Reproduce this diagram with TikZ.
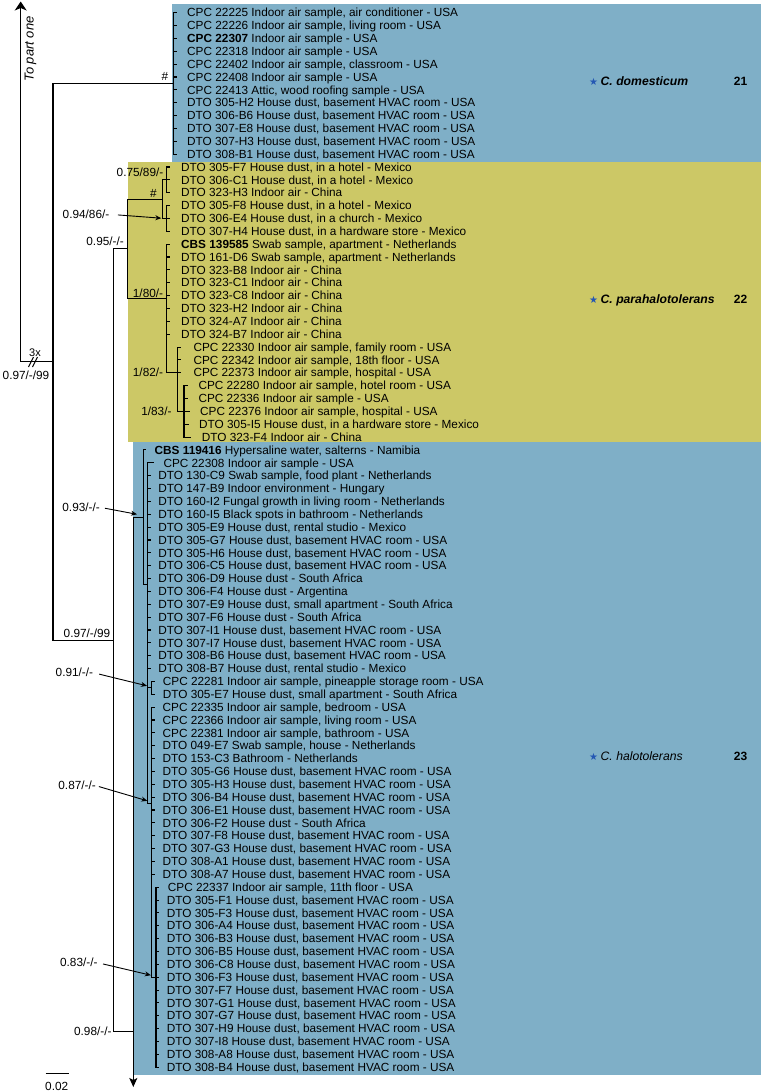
\documentclass[tikz,border=0pt]{standalone}
\usepackage{fontspec}
\setmainfont{Liberation Sans}
\newfontfamily\starfont{DejaVu Sans}
\usetikzlibrary{arrows.meta}
\definecolor{cladeblue}{RGB}{127,175,199}
\definecolor{cladeyellow}{RGB}{204,200,102}
\definecolor{starblue}{RGB}{36,87,179}

\begin{document}
\begin{tikzpicture}[x=1pt, y=-1pt,
    every node/.style={font=\fontsize{11.8}{13}\selectfont, inner sep=0pt, text height=8.4pt, text depth=0pt},
    branch/.style={line width=1.1pt, line cap=rect},
    leaf/.style={anchor=west, inner xsep=#1}, leaf/.default=10pt,
    support/.style={anchor=east},
    pointer/.style={line width=0.9pt, -{Stealth[length=6pt, width=5pt]}},
    species/.style={anchor=west, font=\fontsize{12.2}{13}\selectfont},
    cladenum/.style={font=\fontsize{12}{13}\selectfont\bfseries}]
    \useasboundingbox (0,0) rectangle (761,1091);

    % Clade boxes
    \fill[cladeblue] (172.3,4.3) rectangle (761,161.7);
    \fill[cladeyellow] (128.3,161.7) rectangle (761,441.7);
    \fill[cladeblue] (133.3,441.7) rectangle (761,1075);

    % Internal nodes
    \coordinate (root) at (53,361.85);
    \coordinate (dom) at (173.3,83.43);
    \coordinate (big) at (113.3,640.27);
    \coordinate (para) at (127.7,248.83);
    \coordinate (hashp) at (162.3,199.17);
    \coordinate (c75) at (166.7,179.88);
    \coordinate (c94) at (166.7,218.46);
    \coordinate (c180) at (166.7,298.48);
    \coordinate (c182) at (177.3,372.78);
    \coordinate (c183) at (184,411.36);
    \coordinate (halo) at (133.3,1031.7);
    \coordinate (c93) at (143.3,517.28);
    \coordinate (csub) at (147.7,584.61);
    \coordinate (c91) at (151.7,687.85);
    \coordinate (c87) at (151.3,803.16);
    \coordinate (c83) at (156,977.2);
    \coordinate (partone) at (20.7,1.5);
    \coordinate (partnext) at (133.3,1087);

    % C. domesticum
    \foreach \r/\lab in {1/{CPC 22225 Indoor air sample, air conditioner - USA}, 2/{CPC 22226 Indoor air sample, living room - USA}, 3/{\textbf{CPC 22307} Indoor air sample - USA}, 4/{CPC 22318 Indoor air sample - USA}, 5/{CPC 22402 Indoor air sample, classroom - USA}, 6/{CPC 22408 Indoor air sample - USA}, 7/{CPC 22413 Attic, wood roofing sample - USA}, 8/{DTO 305-H2 House dust, basement HVAC room - USA}, 9/{DTO 306-B6 House dust, basement HVAC room - USA}, 10/{DTO 307-E8 House dust, basement HVAC room - USA}, 11/{DTO 307-H3 House dust, basement HVAC room - USA}, 12/{DTO 308-B1 House dust, basement HVAC room - USA}}{
        \node[leaf=11pt] (L\r) at (176,{12.7+(\r-1)*12.86}) {\lab};
        \draw[branch] (dom |- L\r.west) -- (L\r.west);
    }

    % C. parahalotolerans
    \foreach \r/\up/\lab in {13/c75/{DTO 305-F7 House dust, in a hotel - Mexico}, 14/c75/{DTO 306-C1 House dust, in a hotel - Mexico}, 15/c75/{DTO 323-H3 Indoor air - China}, 16/c94/{DTO 305-F8 House dust, in a hotel - Mexico}, 17/c94/{DTO 306-E4 House dust, in a church - Mexico}, 18/c94/{DTO 307-H4 House dust, in a hardware store - Mexico}, 19/c180/{\textbf{CBS 139585} Swab sample, apartment - Netherlands}, 20/c180/{DTO 161-D6 Swab sample, apartment - Netherlands}, 21/c180/{DTO 323-B8 Indoor air - China}, 22/c180/{DTO 323-C1 Indoor air - China}, 23/c180/{DTO 323-C8 Indoor air - China}, 24/c180/{DTO 323-H2 Indoor air - China}, 25/c180/{DTO 324-A7 Indoor air - China}, 26/c180/{DTO 324-B7 Indoor air - China}}{
        \node[leaf=11.5pt] (L\r) at (169.5,{12.7+(\r-1)*12.86}) {\lab};
        \draw[branch] (\up |- L\r.west) -- (L\r.west);
    }
    \foreach \r/\lab in {27/{CPC 22330 Indoor air sample, family room - USA}, 28/{CPC 22342 Indoor air sample, 18th floor - USA}, 29/{CPC 22373 Indoor air sample, hospital - USA}}{
        \node[leaf=13.3pt] (L\r) at (180,{12.7+(\r-1)*12.86}) {\lab};
        \draw[branch] (c182 |- L\r.west) -- (L\r.west);
    }
    \foreach \r/\tx/\lab in {30/198.3/{CPC 22280 Indoor air sample, hotel room - USA}, 31/198.3/{CPC 22336 Indoor air sample - USA}, 32/200/{CPC 22376 Indoor air sample, hospital - USA}, 33/199/{DTO 305-I5 House dust, in a hardware store - Mexico}, 34/201.7/{DTO 323-F4 Indoor air - China}}{
        \node[leaf=11pt] (L\r) at (\tx-11,{12.7+(\r-1)*12.86}) {\lab};
        \draw[branch] (c183 |- L\r.west) -- (L\r.west);
    }

    % C. halotolerans
    \node[leaf=9pt] (L35) at (145.5,449.94) {\textbf{CBS 119416} Hypersaline water, salterns - Namibia};
    \draw[branch] (c93 |- L35.west) -- (L35.west);
    \node[leaf=10pt] (L36) at (153.3,462.8) {CPC 22308 Indoor air sample - USA};
    \draw[branch] (csub |- L36.west) -- (L36.west);
    \foreach \r/\lab in {37/{DTO 130-C9 Swab sample, food plant - Netherlands}, 38/{DTO 147-B9 Indoor environment - Hungary}, 39/{DTO 160-I2 Fungal growth in living room - Netherlands}, 40/{DTO 160-I5 Black spots in bathroom - Netherlands}, 41/{DTO 305-E9 House dust, rental studio - Mexico}, 42/{DTO 305-G7 House dust, basement HVAC room - USA}, 43/{DTO 305-H6 House dust, basement HVAC room - USA}, 44/{DTO 306-C5 House dust, basement HVAC room - USA}, 45/{DTO 306-D9 House dust - South Africa}, 46/{DTO 306-F4 House dust - Argentina}, 47/{DTO 307-E9 House dust, small apartment - South Africa}, 48/{DTO 307-F6 House dust - South Africa}, 49/{DTO 307-I1 House dust, basement HVAC room - USA}, 50/{DTO 307-I7 House dust, basement HVAC room - USA}, 51/{DTO 308-B6 House dust, basement HVAC room - USA}, 52/{DTO 308-B7 House dust, rental studio - Mexico}}{
        \node[leaf=7.7pt] (L\r) at (150.5,{12.7+(\r-1)*12.86}) {\lab};
        \draw[branch] (csub |- L\r.west) -- (L\r.west);
    }
    \foreach \r/\lab in {53/{CPC 22281 Indoor air sample, pineapple storage room - USA}, 54/{DTO 305-E7 House dust, small apartment - South Africa}}{
        \node[leaf=8.7pt] (L\r) at (154,{12.7+(\r-1)*12.86}) {\lab};
        \draw[branch] (c91 |- L\r.west) -- (L\r.west);
    }
    \foreach \r/\lab in {55/{CPC 22335 Indoor air sample, bedroom - USA}, 56/{CPC 22366 Indoor air sample, living room - USA}, 57/{CPC 22381 Indoor air sample, bathroom - USA}, 58/{DTO 049-E7 Swab sample, house - Netherlands}, 59/{DTO 153-C3 Bathroom - Netherlands}, 60/{DTO 305-G6 House dust, basement HVAC room - USA}, 61/{DTO 305-H3 House dust, basement HVAC room - USA}, 62/{DTO 306-B4 House dust, basement HVAC room - USA}, 63/{DTO 306-E1 House dust, basement HVAC room - USA}, 64/{DTO 306-F2 House dust - South Africa}, 65/{DTO 307-F8 House dust, basement HVAC room - USA}, 66/{DTO 307-G3 House dust, basement HVAC room - USA}, 67/{DTO 308-A1 House dust, basement HVAC room - USA}, 68/{DTO 308-A7 House dust, basement HVAC room - USA}}{
        \node[leaf=8.5pt] (L\r) at (154,{12.7+(\r-1)*12.86}) {\lab};
        \draw[branch] (c87 |- L\r.west) -- (L\r.west);
    }
    \node[leaf=9.2pt] (L69) at (158.5,887.18) {CPC 22337 Indoor air sample, 11th floor - USA};
    \draw[branch] (c83 |- L69.west) -- (L69.west);
    \foreach \r/\id in {70/305-F1, 71/305-F3, 72/306-A4, 73/306-B3, 74/306-B5, 75/306-C8, 76/306-F3, 77/307-F7, 78/307-G1, 79/307-G7, 80/307-H9, 81/307-I8, 82/308-A8, 83/308-B4}{
        \node[leaf=8.2pt] (L\r) at (158.5,{12.7+(\r-1)*12.86}) {DTO \id{} House dust, basement HVAC room - USA};
        \draw[branch] (c83 |- L\r.west) -- (L\r.west);
    }

    % Tree branches
    \draw[branch] (dom |- L1.west) -- (dom |- L12.west);
    \draw[branch] (dom) -| (root) |- (big);
    \draw[branch, -{Stealth[length=9pt, width=12pt, inset=2.5pt]}] (root) -| (partone);
    \draw[branch] (para) -| (big) |- (halo);
    \draw[branch] (hashp) -| (para) |- (c180);
    \draw[branch] (c75) -| (hashp) |- (c94);
    \draw[branch] (c75 |- L13.west) -- (c75 |- L15.west);
    \draw[branch] (c94 |- L16.west) -- (c94 |- L18.west);
    \draw[branch] (c180 |- L19.west) |- (c182);
    \draw[branch] (c182 |- L27.west) |- (c183);
    \draw[branch] (c183 |- L30.west) -- (c183 |- L34.west);
    \draw[branch, -{Stealth[length=9pt, width=8pt, inset=2pt]}] (c93) -| (halo) -- (partnext);
    \draw[branch] (c93 |- L35.west) |- (csub);
    \draw[branch] (csub |- L36.west) |- (c87);
    \draw[branch] (c91 -| csub) -- (c91);
    \draw[branch] (c91 |- L53.west) -- (c91 |- L54.west);
    \draw[branch] (c87 |- L55.west) |- (c83);
    \draw[branch] (c83 |- L69.west) -- (c83 |- L83.west);

    % Long branch cut
    \node[font=\fontsize{11}{12}\selectfont] (threex) at (35,352.7) {3x};
    \draw[line width=0.9pt] (28.5,367) -- (33.5,357);
    \draw[line width=0.9pt] (32.5,367) -- (37.5,357);
    \node[rotate=90, font=\fontsize{13}{14}\selectfont\itshape] (toone) at (29.5,49) {To part one};

    % Support values
    \node (hashdom) at (165,76.7) {\#};
    \node (hashpara) at (153.3,193.3) {\#};
    \node[support] (s75) at (163.5,172.7) {0.75/89/-};
    \node[support] (s94) at (109.5,214.3) {0.94/86/-};
    \node[support] (s95) at (124,241.7) {0.95/-/-};
    \node[support] (s180) at (163.3,293) {1/80/-};
    \node[support] (s182) at (163.3,372.3) {1/82/-};
    \node[support] (s183) at (171.7,411.7) {1/83/-};
    \node[support] (sroot) at (49.5,375) {0.97/-/99};
    \node[support] (sbig) at (110.5,633) {0.97/-/99};
    \node[support] (s93) at (100,507.3) {0.93/-/-};
    \node[support] (s91) at (93.3,672.7) {0.91/-/-};
    \node[support] (s87) at (96,785.7) {0.87/-/-};
    \node[support] (s83) at (97.7,962.7) {0.83/-/-};
    \node[support] (s98) at (111.7,1031.7) {0.98/-/-};

    % Pointers to short branches
    \coordinate (tip94) at (161.3,218.2);
    \coordinate (tip93) at (137,514.3);
    \coordinate (tip91) at (147,685.8);
    \coordinate (tip87) at (147.3,800.8);
    \coordinate (tip83) at (150.8,975.2);
    \draw[pointer, shorten <=8.5pt] (s94.east) -- (tip94);
    \draw[pointer, shorten <=5pt] (s93.east) -- (tip93);
    \draw[pointer, shorten <=6pt] (s91.east) -- (tip91);
    \draw[pointer, shorten <=3pt] (s87.east) -- (tip87);
    \draw[pointer, shorten <=5.5pt] (s83.east) -- (tip83);

    % Species names and numbers
    \node[species] (domname) at (589,80.9) {{\starfont\fontsize{10}{10}\selectfont\color{starblue}★}\hspace{2.5pt}\textbf{\textit{C. domesticum}}};
    \node[cladenum] (domnum) at (740.5,80.9) {21};
    \node[species] (paraname) at (589,299.5) {{\starfont\fontsize{10}{10}\selectfont\color{starblue}★}\hspace{2.5pt}\textbf{\textit{C. parahalotolerans}}};
    \node[cladenum] (paranum) at (740.5,299.5) {22};
    \node[species] (haloname) at (589,756) {{\starfont\fontsize{10}{10}\selectfont\color{starblue}★}\hspace{2.5pt}\textit{C. halotolerans}};
    \node[cladenum] (halonum) at (740.5,756) {23};

    % Scale bar
    \draw[line width=1pt] (45.7,1073.3) -- (69.3,1073.3);
    \node (scale) at (56.7,1086) {0.02};
\end{tikzpicture}
\end{document}
